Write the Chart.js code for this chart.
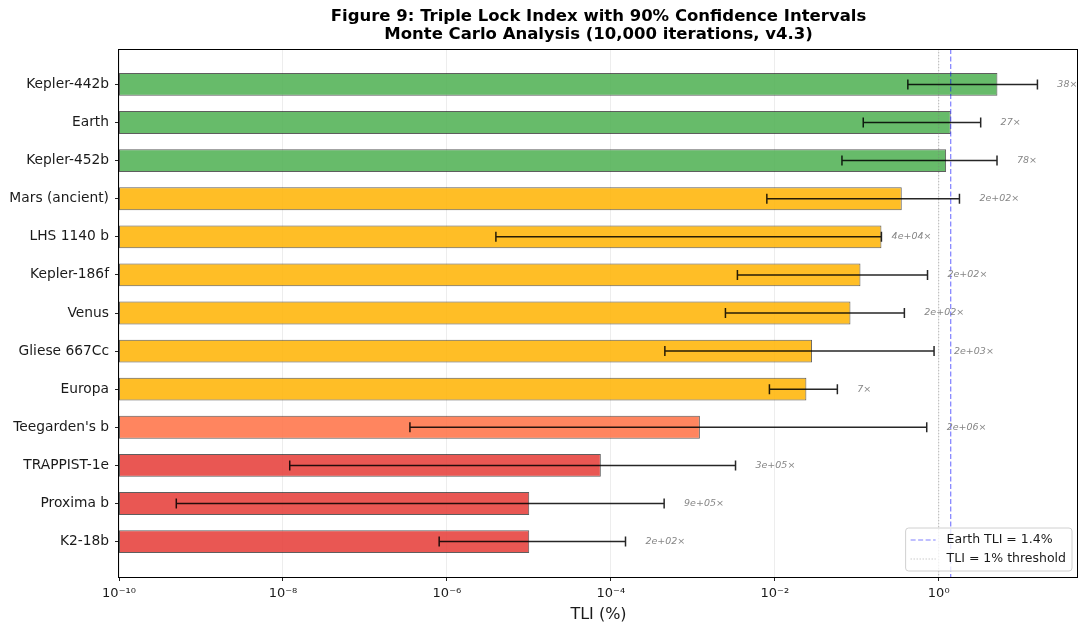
<!DOCTYPE html>
<html>
<head>
<meta charset="utf-8">
<script src="https://cdn.jsdelivr.net/npm/chart.js@4/dist/chart.umd.min.js"></script>
<style>
  html, body { margin: 0; padding: 0; background: #ffffff; }
  #wrap { width: 1081px; height: 628px; }
</style>
</head>
<body>
<div id="wrap"><canvas id="tliChart" width="1081" height="628"></canvas></div>
<script>
// Planets, top to bottom
const planets = [
  'Kepler-442b', 'Earth', 'Kepler-452b', 'Mars (ancient)', 'LHS 1140 b',
  'Kepler-186f', 'Venus', 'Gliese 667Cc', 'Europa', "Teegarden's b",
  'TRAPPIST-1e', 'Proxima b', 'K2-18b'
];
// Median Triple Lock Index (%)
const tli = [5.2, 1.4, 1.23, 0.354, 0.20, 0.111, 0.0838, 0.0285, 0.0243, 0.00122, 7.55e-5, 1.01e-5, 1.01e-5];
// 90% confidence interval bounds (%)
const ciLow  = [0.42, 0.12, 0.066, 0.008, 3.96e-6, 0.0035, 0.0025, 4.56e-4, 0.0086, 3.54e-7, 1.21e-8, 5.0e-10, 8.05e-7];
const ciHigh = [16.0, 3.25, 5.14, 1.79, 0.152, 0.73, 0.381, 0.877, 0.058, 0.714, 0.00332, 4.47e-4, 1.51e-4];
// Log-axis major ticks
const xTickValues = [1e-10, 1e-8, 1e-6, 1e-4, 1e-2, 1];

const EARTH_TLI = 1.4;
const THRESHOLD = 1.0;
const TITLE_LINES = [
  'Figure 9: Triple Lock Index with 90% Confidence Intervals',
  'Monte Carlo Analysis (10,000 iterations, v4.3)'
];

const FONT = '"DejaVu Sans", "Liberation Sans", sans-serif';
Chart.defaults.font.family = FONT;
Chart.defaults.color = '#1a1a1a';

// Colour tier by index value
function tierColor(v) {
  if (v >= 1) return 'rgba(76,175,80,0.85)';
  if (v >= 0.01) return 'rgba(255,179,0,0.85)';
  if (v >= 0.001) return 'rgba(255,112,67,0.85)';
  return 'rgba(229,57,53,0.85)';
}

// CI width as a multiplicative spread, e.g. "38×" or "2e+02×"
function spreadText(lo, hi) {
  const r = hi / lo;
  if (r < 100) return Math.round(r) + '×';
  const e = Math.floor(Math.log10(r));
  let m = Math.round(r / Math.pow(10, e));
  let exp = e;
  if (m >= 10) { m = 1; exp += 1; }
  return m + 'e+' + String(exp).padStart(2, '0') + '×';
}

const SUP = { '-': '⁻', '0': '⁰', '1': '¹', '2': '²', '3': '³', '4': '⁴', '5': '⁵', '6': '⁶', '7': '⁷', '8': '⁸', '9': '⁹' };
function powLabel(v) {
  const e = String(Math.round(Math.log10(v)));
  return '10' + e.split('').map(c => SUP[c]).join('');
}

const refLines = [
  { label: 'Earth TLI = 1.4%', value: EARTH_TLI, color: 'rgba(0,0,255,0.5)', dash: [5, 2.5], width: 1.2 },
  { label: 'TLI = 1% threshold', value: THRESHOLD, color: 'rgba(128,128,128,0.5)', dash: [1.2, 1.8], width: 1 }
];

const titlePlugin = {
  id: 'figTitle',
  afterDraw(chart) {
    const { ctx, chartArea } = chart;
    const cx = (chartArea.left + chartArea.right) / 2;
    ctx.save();
    ctx.fillStyle = '#000';
    ctx.font = 'bold 16.5px ' + FONT;
    ctx.textAlign = 'center';
    ctx.textBaseline = 'middle';
    ctx.fillText(TITLE_LINES[0], cx, 17);
    ctx.fillText(TITLE_LINES[1], cx, 35);
    ctx.restore();
  }
};

const overlayPlugin = {
  id: 'ciOverlay',
  afterDatasetsDraw(chart) {
    const { ctx, chartArea } = chart;
    const xs = chart.scales.x;
    const meta = chart.getDatasetMeta(0);
    ctx.save();
    ctx.beginPath();
    ctx.rect(chartArea.left, chartArea.top, chartArea.right - chartArea.left, chartArea.bottom - chartArea.top);
    ctx.clip();

    // reference lines
    refLines.forEach(r => {
      const x = xs.getPixelForValue(r.value);
      ctx.beginPath();
      ctx.setLineDash(r.dash);
      ctx.strokeStyle = r.color;
      ctx.lineWidth = r.width;
      ctx.moveTo(x, chartArea.top);
      ctx.lineTo(x, chartArea.bottom);
      ctx.stroke();
    });
    ctx.setLineDash([]);

    // confidence interval whiskers
    ctx.strokeStyle = 'rgba(0,0,0,0.85)';
    ctx.lineWidth = 1.5;
    const cap = 5;
    meta.data.forEach((bar, i) => {
      const y = bar.y;
      const x0 = xs.getPixelForValue(ciLow[i]);
      const x1 = xs.getPixelForValue(Math.max(ciHigh[i], tli[i]));
      ctx.beginPath();
      ctx.moveTo(x0, y); ctx.lineTo(x1, y);
      ctx.moveTo(x0, y - cap); ctx.lineTo(x0, y + cap);
      ctx.moveTo(x1, y - cap); ctx.lineTo(x1, y + cap);
      ctx.stroke();
    });

    // spread annotations
    ctx.fillStyle = '#868686';
    ctx.font = 'italic 9.5px ' + FONT;
    ctx.textAlign = 'left';
    ctx.textBaseline = 'middle';
    meta.data.forEach((bar, i) => {
      const x = xs.getPixelForValue(ciHigh[i] * 1.75);
      ctx.fillText(spreadText(ciLow[i], ciHigh[i]), x, bar.y);
    });
    ctx.restore();
  },
  afterDraw(chart) {
    const { ctx, chartArea } = chart;
    // axes frame
    ctx.save();
    ctx.strokeStyle = '#000';
    ctx.lineWidth = 1;
    ctx.strokeRect(chartArea.left - 0.5, chartArea.top + 0.5,
                   chartArea.right - chartArea.left, chartArea.bottom - chartArea.top);
    ctx.restore();

    // legend for reference lines
    ctx.save();
    ctx.font = '12.5px ' + FONT;
    const textW = Math.max(...refLines.map(r => ctx.measureText(r.label).width));
    const boxW = 41 + textW + 6;
    const boxH = 43;
    const bx = chartArea.right - 6 - boxW;
    const by = chartArea.bottom - 6 - boxH;
    ctx.beginPath();
    ctx.roundRect(bx, by, boxW, boxH, 3);
    ctx.fillStyle = 'rgba(255,255,255,0.8)';
    ctx.fill();
    ctx.strokeStyle = '#d0d0d0';
    ctx.lineWidth = 1;
    ctx.stroke();
    refLines.forEach((r, i) => {
      const y = by + 12 + i * 19;
      ctx.beginPath();
      ctx.setLineDash(r.dash);
      ctx.strokeStyle = r.color;
      ctx.lineWidth = r.width;
      ctx.moveTo(bx + 5, y);
      ctx.lineTo(bx + 30, y);
      ctx.stroke();
      ctx.setLineDash([]);
      ctx.fillStyle = '#1a1a1a';
      ctx.textAlign = 'left';
      ctx.textBaseline = 'middle';
      ctx.fillText(r.label, bx + 41, y);
    });
    ctx.restore();
  }
};

new Chart(document.getElementById('tliChart'), {
  type: 'bar',
  data: {
    datasets: [{
      label: 'TLI',
      data: planets.map((p, i) => ({ y: i, x: tli[i] })),
      backgroundColor: tli.map(tierColor),
      borderColor: 'rgba(40,40,40,0.75)',
      borderWidth: 1,
      borderSkipped: false,
      barPercentage: 0.6,
      categoryPercentage: 1.0
    }]
  },
  options: {
    indexAxis: 'y',
    responsive: false,
    animation: false,
    devicePixelRatio: 1,
    layout: { padding: { top: 49, right: 3, left: 0, bottom: 0 } },
    plugins: {
      legend: { display: false },
      title: { display: false },
      tooltip: { enabled: false }
    },
    scales: {
      y: {
        type: 'linear',
        reverse: true,
        offset: false,
        min: -0.93,
        max: 12.93,
        afterBuildTicks: s => { s.ticks = planets.map((_, i) => ({ value: i })); },
        afterFit: s => { s.width = 119; },
        ticks: {
          callback: v => planets[v],
          font: { size: 13.8 },
          color: '#1a1a1a',
          padding: 6,
          autoSkip: false
        },
        grid: { offset: false, drawOnChartArea: false, drawTicks: true, tickLength: 4, tickColor: '#222', tickWidth: 1 },
        border: { display: false }
      },
      x: {
        type: 'logarithmic',
        min: 1e-10,
        max: 50,
        afterBuildTicks: s => { s.ticks = xTickValues.map(v => ({ value: v })); },
        afterFit: s => { s.height = 51; },
        ticks: {
          callback: v => powLabel(v),
          font: { size: 13 },
          color: '#1a1a1a',
          padding: 5,
          maxRotation: 0,
          autoSkip: false
        },
        grid: { color: '#e8e8e8', lineWidth: 0.8, drawTicks: true, tickLength: 4, tickColor: '#222', tickWidth: 1 },
        border: { display: false },
        title: { display: true, text: 'TLI (%)', font: { size: 16 }, color: '#1a1a1a', padding: { top: 0, bottom: 4 } }
      }
    }
  },
  plugins: [titlePlugin, overlayPlugin]
});
</script>
</body>
</html>
